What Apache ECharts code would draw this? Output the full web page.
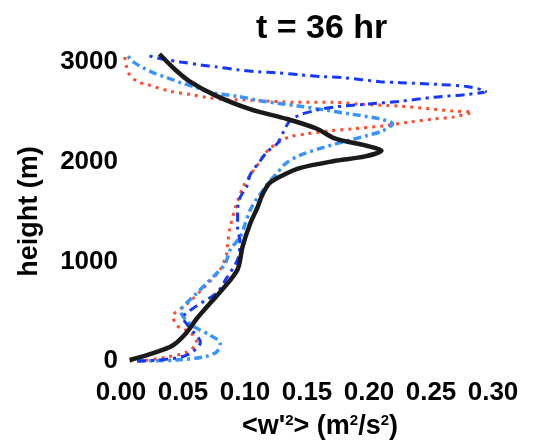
<!DOCTYPE html>
<html>
<head>
<meta charset="utf-8">
<script src="https://cdn.jsdelivr.net/npm/echarts@6/dist/echarts.min.js"></script>
<style>
  html, body { margin: 0; padding: 0; background: #fff; }
  #chart { width: 546px; height: 445px; }
</style>
</head>
<body>
<div id="chart"></div>
<script>
// profiles of <w'^2> (m^2/s^2) against height (m), pairs of [value, height]
var blackProfile = [
  [0.007, 10], [0.026, 79], [0.042, 158], [0.053, 286], [0.061, 424], [0.072, 582],
  [0.082, 721], [0.094, 918], [0.098, 1145], [0.104, 1372], [0.110, 1540], [0.114, 1668],
  [0.120, 1787], [0.131, 1866], [0.144, 1935], [0.171, 2004], [0.197, 2053], [0.210, 2110],
  [0.198, 2160], [0.173, 2230], [0.158, 2330], [0.134, 2428], [0.104, 2527], [0.076, 2665],
  [0.056, 2800], [0.044, 2920], [0.031, 3080]
];
var lightBlueProfile = [
  [0.013, 0], [0.026, 3], [0.045, 10], [0.066, 40], [0.077, 90], [0.080, 178],
  [0.072, 257], [0.060, 336], [0.052, 415], [0.048, 503], [0.053, 582], [0.061, 681],
  [0.069, 780], [0.077, 878], [0.084, 977], [0.088, 1115], [0.096, 1243], [0.100, 1372],
  [0.104, 1510], [0.110, 1638], [0.115, 1717], [0.120, 1806], [0.126, 1885], [0.132, 1974],
  [0.144, 2063], [0.171, 2171], [0.198, 2260], [0.211, 2310], [0.219, 2379], [0.209, 2428],
  [0.185, 2478], [0.160, 2527], [0.144, 2557], [0.115, 2606], [0.094, 2655], [0.072, 2695],
  [0.061, 2744], [0.048, 2793], [0.037, 2843], [0.026, 2892], [0.018, 2941], [0.010, 3000],
  [0.005, 3070]
];
var blueProfile = [
  [0.013, 0], [0.031, 10], [0.053, 59], [0.064, 188], [0.056, 326], [0.050, 434],
  [0.061, 553], [0.077, 681], [0.085, 829], [0.094, 1017], [0.096, 1194], [0.094, 1342],
  [0.094, 1510], [0.096, 1638], [0.102, 1767], [0.104, 1865], [0.112, 2004], [0.118, 2102],
  [0.126, 2181], [0.131, 2300], [0.136, 2408], [0.144, 2468], [0.158, 2517], [0.171, 2547],
  [0.198, 2577], [0.225, 2606], [0.252, 2646], [0.279, 2675], [0.294, 2705], [0.279, 2754],
  [0.257, 2774], [0.225, 2793], [0.209, 2803], [0.179, 2843], [0.163, 2853], [0.144, 2872],
  [0.126, 2892], [0.110, 2902], [0.094, 2922], [0.077, 2951], [0.064, 2971], [0.048, 3000],
  [0.029, 3040], [0.021, 3070]
];
var redProfile = [
  [0.007, 0], [0.018, 5], [0.037, 40], [0.053, 89], [0.061, 188], [0.056, 286],
  [0.045, 355], [0.042, 454], [0.048, 523], [0.056, 602], [0.064, 701], [0.072, 800],
  [0.080, 918], [0.085, 1066], [0.086, 1175], [0.088, 1342], [0.093, 1569], [0.096, 1668],
  [0.098, 1737], [0.104, 1865], [0.110, 1964], [0.115, 2063], [0.120, 2132], [0.128, 2201],
  [0.136, 2250], [0.150, 2280], [0.169, 2310], [0.187, 2329], [0.211, 2359], [0.233, 2398],
  [0.252, 2428], [0.268, 2448], [0.283, 2497], [0.268, 2507], [0.252, 2527], [0.225, 2557],
  [0.193, 2577], [0.171, 2596], [0.142, 2596], [0.131, 2600], [0.098, 2620], [0.082, 2625],
  [0.069, 2645], [0.056, 2675], [0.040, 2705], [0.021, 2774], [0.013, 2803], [0.006, 2892],
  [0.003, 3050]
];
var xTicks = [0, 0.05, 0.10, 0.15, 0.20, 0.25, 0.30];
var yTicks = [0, 1000, 2000, 3000];
var titleText = 't = 36 hr';

var myChart = echarts.init(document.getElementById('chart'));
var font = 'Liberation Sans, Arial, sans-serif';

function profile(data, color, width, dash) {
  return {
    type: 'line',
    data: data,
    showSymbol: false,
    smooth: 0.3,
    clip: false,
    lineStyle: { color: color, width: width, type: dash, cap: 'butt' }
  };
}

myChart.setOption({
  animation: false,
  title: {
    text: titleText,
    left: 251,
    top: 7,
    textStyle: { fontFamily: font, fontWeight: 'bold', fontSize: 34, color: '#000' }
  },
  grid: { left: 121, right: 53, top: 62, bottom: 79 },
  xAxis: {
    type: 'value',
    min: xTicks[0],
    max: xTicks[xTicks.length - 1],
    interval: 0.05,
    axisLine: { show: false },
    axisTick: { show: false },
    splitLine: { show: false },
    axisLabel: {
      margin: 19,
      fontFamily: font, fontWeight: 'bold', fontSize: 26, color: '#000',
      formatter: function (v) { return v.toFixed(2); }
    },
    name: '{t|<w\'}{s|2}{t|> (m}{s|2}{t|/s}{s|2}{t|)}',
    nameLocation: 'middle',
    nameGap: 52,
    nameTextStyle: {
      padding: [0, 0, 0, 26],
      rich: {
        t: { fontFamily: font, fontWeight: 'bold', fontSize: 27, color: '#000', verticalAlign: 'bottom' },
        s: { fontFamily: font, fontWeight: 'bold', fontSize: 15, color: '#000', verticalAlign: 'top', padding: [0, 0, 12, 0] }
      }
    }
  },
  yAxis: {
    type: 'value',
    min: yTicks[0],
    max: yTicks[yTicks.length - 1],
    interval: 1000,
    axisLine: { show: false },
    axisTick: { show: false },
    splitLine: { show: false },
    axisLabel: {
      margin: 3,
      fontFamily: font, fontWeight: 'bold', fontSize: 26, color: '#000',
      formatter: function (v) { return String(v); }
    },
    name: 'height (m)',
    nameLocation: 'middle',
    nameGap: 78,
    nameTextStyle: { fontFamily: font, fontWeight: 'bold', fontSize: 27, color: '#000' }
  },
  series: [
    profile(redProfile, '#ff4b2e', 3, [3, 5]),
    profile(lightBlueProfile, '#3a94ff', 3.5, [8, 4, 3, 4]),
    profile(blueProfile, '#1438ff', 3, [9, 5, 3, 5]),
    profile(blackProfile, '#1a1a1a', 4.5, 'solid')
  ]
});

window.addEventListener('resize', function () {
  myChart.resize();
});
</script>
</body>
</html>
